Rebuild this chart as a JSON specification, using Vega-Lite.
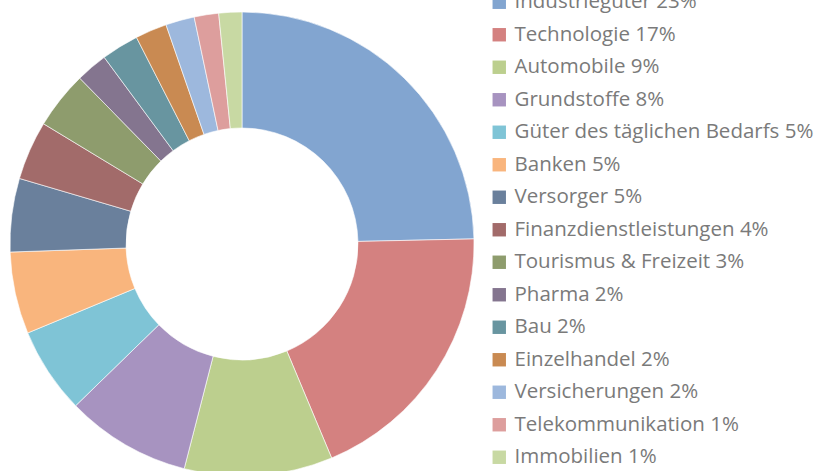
{
  "$schema": "https://vega.github.io/schema/vega-lite/v6.json",
  "width": 484,
  "height": 488,
  "padding": {"left": 0, "top": 0, "right": 337, "bottom": 0},
  "autosize": {"type": "none"},
  "background": "white",
  "config": {"view": {"stroke": null}},
  "data": {
    "values": [
      {"idx": 1, "label": "Industriegüter 23%", "share": 24.6},
      {"idx": 2, "label": "Technologie 17%", "share": 19.0},
      {"idx": 3, "label": "Automobile 9%", "share": 10.3},
      {"idx": 4, "label": "Grundstoffe 8%", "share": 8.7},
      {"idx": 5, "label": "Güter des täglichen Bedarfs 5%", "share": 6.0},
      {"idx": 6, "label": "Banken 5%", "share": 5.7},
      {"idx": 7, "label": "Versorger 5%", "share": 5.1},
      {"idx": 8, "label": "Finanzdienstleistungen 4%", "share": 4.1},
      {"idx": 9, "label": "Tourismus & Freizeit 3%", "share": 4.0},
      {"idx": 10, "label": "Pharma 2%", "share": 2.2},
      {"idx": 11, "label": "Bau 2%", "share": 2.6},
      {"idx": 12, "label": "Einzelhandel 2%", "share": 2.2},
      {"idx": 13, "label": "Versicherungen 2%", "share": 2.0},
      {"idx": 14, "label": "Telekommunikation 1%", "share": 1.7},
      {"idx": 15, "label": "Immobilien 1%", "share": 1.6}
    ]
  },
  "mark": {"type": "arc", "radius": 232, "radius2": 116, "stroke": "#ffffff", "strokeWidth": 0.6},
  "encoding": {
    "theta": {"field": "share", "type": "quantitative", "stack": true},
    "order": {"field": "idx", "type": "quantitative"},
    "color": {
      "field": "label",
      "type": "nominal",
      "scale": {
        "domain": ["Industriegüter 23%", "Technologie 17%", "Automobile 9%", "Grundstoffe 8%", "Güter des täglichen Bedarfs 5%", "Banken 5%", "Versorger 5%", "Finanzdienstleistungen 4%", "Tourismus & Freizeit 3%", "Pharma 2%", "Bau 2%", "Einzelhandel 2%", "Versicherungen 2%", "Telekommunikation 1%", "Immobilien 1%"],
        "range": ["#82a5d0", "#d48180", "#bccf8e", "#a793c0", "#7fc4d6", "#f9b57d", "#6a809c", "#a26b6a", "#8e9c6d", "#84758f", "#6895a0", "#c98a52", "#9db8dd", "#dd9e9d", "#c8d9a3"]
      },
      "legend": {
        "orient": "none",
        "legendX": 489,
        "legendY": -8,
        "title": null,
        "symbolType": "square",
        "symbolSize": 180,
        "symbolStrokeWidth": 0,
        "labelFont": "Open Sans",
        "labelFontSize": 20.5,
        "labelColor": "#7a7a7a",
        "labelOffset": 5,
        "labelLimit": 400,
        "rowPadding": 11.5
      }
    }
  }
}
